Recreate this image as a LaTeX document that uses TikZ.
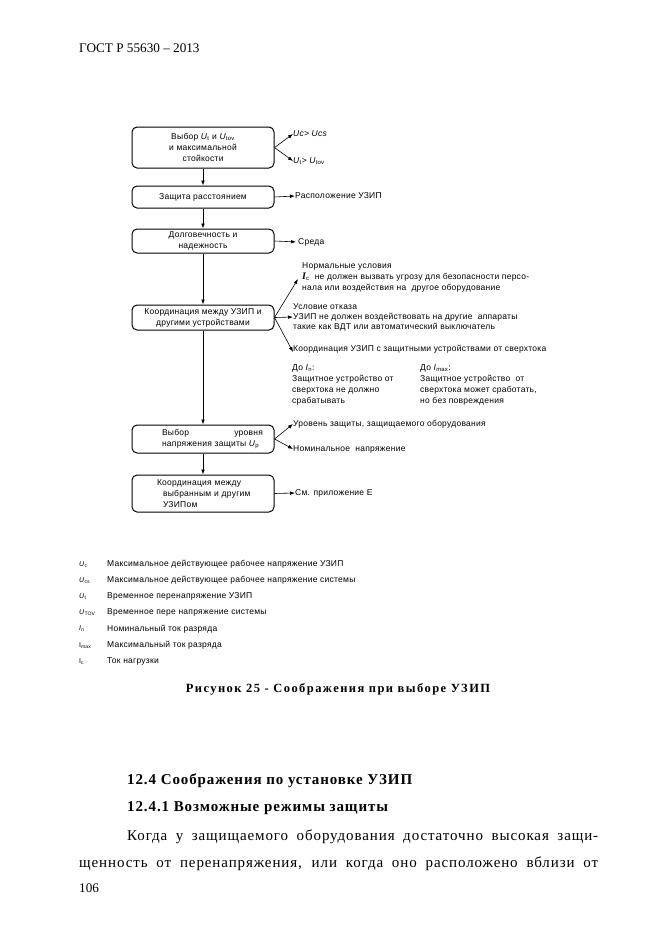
\documentclass[tikz,border=0pt]{standalone}
\usepackage{fontspec}
\setmainfont{Liberation Serif}
\newfontfamily\diagfont[LetterSpace=3]{Liberation Sans}
\newfontfamily\spacedserif[LetterSpace=6]{Liberation Serif}
\newfontfamily\capfont[LetterSpace=11.5]{Liberation Serif}
\usetikzlibrary{positioning,arrows.meta}

\newcommand\diag{\diagfont\fontsize{8.5}{11}\selectfont}
\newcommand\legfont{\diagfont\fontsize{7}{9}\selectfont}
\newcommand\vel[2]{\textit{#1}\textsubscript{#2}}

\begin{document}
\begin{tikzpicture}[x=1pt,y=-1pt,>={Latex[length=5pt,width=3.6pt]},
    blok/.style={draw, line width=1pt, rounded corners=5pt, minimum width=142pt, inner sep=1pt, align=center, font=\diag},
    note/.style={anchor=west, inner sep=0pt, align=left, font=\diag},
    arr/.style={->, line width=0.6pt},
    legsym/.style={anchor=west, inner sep=0pt, font=\legfont},
    pagetext/.style={anchor=base west, inner sep=0pt}]
  % \draw[help lines, gray!50, very thin] (0,0) grid (661,935);
  \useasboundingbox (0,0) rectangle (661,935);

  \node[pagetext, font=\fontsize{13.2}{15}\selectfont] (kolontitul) at (79,52) {ГОСТ Р 55630 – 2013};

  % main column
  \node[blok, minimum height=41pt] (vybor) at (203,147.5) {Выбор \vel{U}{t} и \vel{U}{tov}\\и максимальной\\стойкости};
  \node[blok, minimum height=22pt] (zashchita) at (203,197) {Защита расстоянием};
  \node[blok, minimum height=24pt] (dolg) at (203,241) {Долговечность и\\надежность};
  \node[blok, minimum height=25pt] (koord) at (203,317.5) {Координация между УЗИП и\\другими устройствами};
  \node[blok, align=left, minimum height=28pt] (uroven) at (203,439) {\hspace*{19pt}\makebox[101pt][s]{Выбор уровня}\\\hspace*{19pt}напряжения защиты \vel{U}{p}};
  \node[blok, align=left, text width=106pt, minimum height=37pt] (koord2) at (203,493.5) {\hspace*{7pt}Координация между\\\hspace*{13pt}выбранным и другим\\\hspace*{13pt}УЗИПом};

  \draw[arr] (vybor) -- (zashchita);
  \draw[arr] (zashchita) -- (dolg);
  \draw[arr] (dolg) -- (koord);
  \draw[arr] (koord) -- (uroven);
  \draw[arr] (uroven) -- (koord2);

  % side notes
  \node[note] (uc) at (293,134) {\textit{Uc> Ucs}};
  \node[note] (ut) at (293,161) {\vel{U}{t}> \vel{U}{tov}};
  \draw[arr] (vybor.east) -- (uc.west);
  \draw[arr] (vybor.east) -- (ut.west);

  \node[note] (raspol) at (295,196) {Расположение УЗИП};
  \draw[arr] (zashchita.east) -- (raspol.west);

  \node[note] (sreda) at (298,242) {Среда};
  \draw[arr, shorten >=2pt] (dolg.east) -- (sreda.west);

  \node[note] (normal) at (302,277.5) {Нормальные условия\\{\rmfamily\bfseries\itshape\fontsize{10}{11}\selectfont I}\textsubscript{c}\ \ не должен вызвать угрозу для безопасности персо-\\нала или воздействия на\ \ другое оборудование};
  \coordinate (normalend) at (298,279);
  \draw[arr] (koord.east) -- (normalend);

  \node[note, font=\diagfont\fontsize{8.5}{10}\selectfont] (otkaz) at (293,317) {Условие отказа\\УЗИП не должен воздействовать на другие\ \ аппараты\\такие как ВДТ или автоматический выключатель};
  \draw[arr] (koord.east) -- (otkaz.west);

  \node[note] (sverh) at (293,349) {Координация УЗИП с защитными устройствами от сверхтока};
  \coordinate (sverhend) at (293,352);
  \draw[arr] (koord.east) -- (sverhend);

  \node[note, anchor=north west] (do1) at (292,364) {До \vel{I}{n}:\\Защитное устройство от\\сверхтока не должно\\срабатывать};
  \node[note, anchor=north west] (do2) at (420,364) {До \vel{I}{max}:\\Защитное устройство\ \ от\\сверхтока может сработать,\\но без повреждения};

  \node[note] (zashurov) at (293,424) {Уровень защиты, защищаемого оборудования};
  \node[note] (nomin) at (293,449) {Номинальное\ \ напряжение};
  \draw[arr] (uroven.east) -- (zashurov.west);
  \draw[arr] (uroven.east) -- (nomin.west);

  \node[note] (prilozh) at (295,493) {См. приложение Е};
  \draw[arr] (koord2.east) -- (prilozh.west);

  % legend
  \foreach \sm/\txt [count=\i] in {{\vel{U}{c}}/Максимальное действующее рабочее напряжение УЗИП,
      {\vel{U}{cs}}/Максимальное действующее рабочее напряжение системы,
      {\vel{U}{t}}/Временное перенапряжение УЗИП,
      {\vel{U}{TOV}}/Временное пере напряжение системы,
      {\vel{I}{n}}/Номинальный ток разряда,
      {I\textsubscript{max}}/Максимальный ток разряда,
      {I\textsubscript{c}}/Ток нагрузки} {
    \node[legsym] (sym\i) at (79,548+16.2*\i) {\sm};
    \node[legsym, font=\diag] (leg\i) at (107,548+16.2*\i) {\txt};
  }

  \node[anchor=base, inner sep=0pt, font=\capfont\bfseries\fontsize{12.5}{14}\selectfont] (podpis) at (338,692) {Рисунок 25 - Соображения при выборе УЗИП};

  \node[pagetext, font=\spacedserif\bfseries\fontsize{15}{17}\selectfont] (razdel) at (127,784) {12.4 Соображения по установке УЗИП};
  \node[pagetext, font=\spacedserif\bfseries\fontsize{15}{17}\selectfont] (podrazdel) at (127,811) {12.4.1 Возможные режимы защиты};
  \node[pagetext, font=\spacedserif\fontsize{15}{17}\selectfont] (abz1) at (127,840) {\makebox[471pt][s]{Когда у защищаемого оборудования достаточно высокая защи-}};
  \node[pagetext, font=\spacedserif\fontsize{15}{17}\selectfont] (abz2) at (79,867) {\makebox[519pt][s]{щенность от перенапряжения, или когда оно расположено вблизи от}};
  \node[pagetext, font=\fontsize{13.2}{15}\selectfont] (stranica) at (79,892) {106};
\end{tikzpicture}
\end{document}
